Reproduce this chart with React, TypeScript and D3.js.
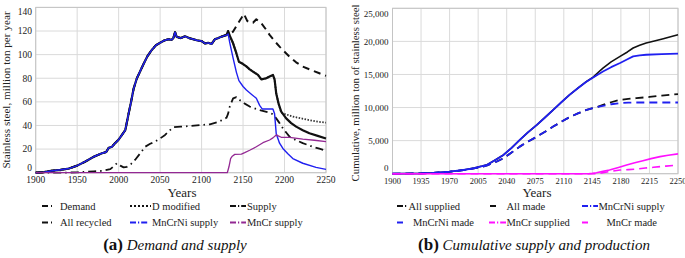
import React from "react";
import * as d3 from "d3";

type P = [number, number];

// ---------- Panel (a): annual demand and supply (million ton / year) ----------
const mncrniSupply: P[] = [
  [1900, 0], [1910, 0.5], [1920, 1.7], [1930, 2.5], [1940, 3.5], [1950, 6], [1960, 9.5],
  [1970, 13.5], [1980, 16.5], [1985, 17.5], [1988, 21], [1992, 22], [1995, 24.5], [2000, 28],
  [2005, 33], [2008, 36], [2012, 50], [2015, 60], [2018, 71], [2022, 80], [2026, 86],
  [2030, 92], [2035, 99], [2040, 104], [2045, 108], [2050, 110], [2055, 112], [2060, 113],
  [2064, 112.5], [2066, 114], [2068, 119], [2070, 115], [2075, 114], [2080, 115.5],
  [2085, 114], [2090, 113], [2095, 112], [2100, 111.5], [2104, 109.5], [2108, 110],
  [2112, 109], [2116, 113], [2120, 114], [2125, 115.5], [2130, 116.5], [2132, 117.5],
  [2134, 110], [2138, 97], [2142, 85], [2145, 78], [2150, 73], [2154, 70], [2160, 66.5],
  [2166, 63], [2170, 57], [2173, 54], [2180, 54], [2186, 54], [2188, 50], [2190, 33],
  [2194, 25], [2198, 20.5], [2204, 16], [2210, 12], [2222, 8], [2238, 4.5], [2250, 2.8],
];
const supplyLate: P[] = [
  [2132, 120], [2134, 116], [2138, 109.6], [2142, 101], [2145, 94], [2150, 92], [2154, 90],
  [2158, 87.5], [2162, 85.6], [2168, 82.8], [2172, 79], [2178, 80], [2182, 81.5], [2186, 82.8],
  [2188, 79], [2190, 67], [2193, 58], [2196, 51.7], [2202, 46], [2208, 42], [2214, 39],
  [2222, 36], [2230, 33.4], [2240, 31.2], [2250, 29],
];
const demandLate: P[] = [
  [2130, 117], [2134, 117.5], [2138, 119.5], [2144, 126.6], [2148, 131], [2151, 134.5],
  [2155, 128.6], [2158, 127], [2162, 127], [2166, 130], [2172, 126.6], [2178, 121],
  [2182, 116.7], [2188, 111.5], [2194, 106.8], [2200, 102.5], [2206, 98.3], [2214, 93.5],
  [2222, 89.8], [2234, 86.4], [2242, 84.2], [2250, 82],
];
const dModifiedLate: P[] = [
  [2196, 51], [2200, 49.8], [2210, 47.5], [2220, 46], [2230, 44.5], [2240, 43.2], [2250, 42.4],
];
const allRecycled: P[] = [
  [1900, 0], [1930, 0], [1950, 0.3], [1960, 0.8], [1970, 1.2], [1980, 1.5], [1990, 3],
  [1995, 6], [1998, 8], [2002, 6], [2006, 4.5], [2010, 5], [2015, 7.4], [2020, 11],
  [2026, 16.4], [2032, 22], [2038, 24.5], [2044, 26.3], [2050, 29], [2056, 32], [2062, 36],
  [2066, 38.5], [2075, 39], [2085, 39.5], [2100, 40.4], [2110, 41], [2120, 43], [2126, 45],
  [2130, 46.5], [2132, 50], [2134, 56], [2138, 63], [2142, 64], [2146, 61.6], [2152, 58.5],
  [2158, 56], [2170, 53], [2182, 50.8], [2186, 49.5], [2190, 46], [2194, 42], [2198, 37.6],
  [2202, 34], [2206, 30.5], [2214, 27.5], [2222, 25], [2234, 22], [2242, 20.3], [2250, 18.6],
];
const mncrSupply: P[] = [
  [1900, 0], [2131, 0], [2133, 5], [2135, 12], [2137, 14], [2140, 15.5], [2148, 15.8],
  [2152, 17], [2158, 19], [2166, 22], [2174, 25.4], [2182, 27.7], [2186, 29.5], [2190, 32],
  [2193, 31], [2196, 30], [2206, 30], [2222, 28.5], [2236, 27.5], [2250, 26.3],
];
const supply: P[] = [...mncrniSupply.filter((d) => d[0] < 2132), ...supplyLate];
const demand: P[] = [...mncrniSupply.filter((d) => d[0] < 2130), ...demandLate];
const dModified: P[] = [...supply.filter((d) => d[0] < 2196), ...dModifiedLate];

const leftYTicks = [0, 20, 40, 60, 80, 100, 120, 140];
const leftXTicks = [1900, 1950, 2000, 2050, 2100, 2150, 2200, 2250];

// ---------- Panel (b): cumulative supply and production (million ton) ----------
const cumMnCrNiSupply: P[] = [
  [1900, 0], [1935, 50], [1950, 120], [1970, 300], [1987, 560], [2000, 850], [2010, 1150],
  [2016, 1350], [2025, 2000], [2036, 2830], [2046, 3900], [2056, 5100], [2066, 6250],
  [2077, 7380], [2087, 8500], [2097, 9650], [2107, 10800], [2117, 11920], [2128, 13000],
  [2138, 13940], [2146, 14550], [2158, 15450], [2168, 16100], [2179, 16730], [2188, 17300],
  [2195, 17730], [2203, 17900], [2211, 17980], [2230, 18080], [2250, 18140],
];
const cumAllSuppliedLate: P[] = [
  [2146, 14600], [2152, 15300], [2158, 15970], [2168, 16900], [2179, 17730], [2188, 18400],
  [2195, 19000], [2203, 19400], [2211, 19760], [2221, 20060], [2232, 20400], [2242, 20730],
  [2250, 21000],
];
const cumMnCrNiMade: P[] = [
  [1900, 0], [1935, 50], [1950, 120], [1970, 300], [1987, 540], [2000, 800], [2010, 1050],
  [2016, 1250], [2022, 1550], [2028, 1850], [2036, 2330], [2046, 3200], [2056, 4090],
  [2066, 4850], [2077, 5600], [2087, 6350], [2097, 7120], [2107, 7850], [2117, 8540],
  [2128, 9150], [2138, 9650], [2148, 10000], [2158, 10260], [2168, 10500], [2179, 10670],
  [2189, 10730], [2199, 10760], [2250, 10760],
];
const cumAllMadeLate: P[] = [
  [2150, 10050], [2158, 10400], [2168, 10800], [2179, 11170], [2189, 11300], [2199, 11420],
  [2215, 11600], [2230, 11800], [2250, 12030],
];
const cumMnCrSupplied: P[] = [
  [1900, 0], [2140, 0], [2145, 50], [2150, 150], [2158, 350], [2166, 560], [2177, 950],
  [2187, 1320], [2197, 1650], [2207, 1970], [2217, 2280], [2228, 2580], [2238, 2800],
  [2250, 3000],
];
const cumMnCrMade: P[] = [
  [1900, 0], [2150, 0], [2158, 150], [2168, 350], [2179, 560], [2189, 620], [2199, 700],
  [2210, 850], [2220, 970], [2235, 1150], [2250, 1320],
];
const cumAllSupplied: P[] = [...cumMnCrNiSupply.filter((d) => d[0] < 2146), ...cumAllSuppliedLate];
const cumAllMade: P[] = [...cumMnCrNiMade.filter((d) => d[0] < 2150), ...cumAllMadeLate];

const rightYTicks = [0, 5000, 10000, 15000, 20000, 25000];
const rightXTicks = [1900, 1935, 1970, 2005, 2040, 2075, 2110, 2145, 2180, 2215, 2250];

const FONT = "Liberation Serif";
const BLUE = "#2020f0";
const PURPLE = "#932893";
const MAGENTA = "#ff10ff";
const GRID = "#dadada";

type Series = { data: P[]; color: string; width: number; dash?: string };
type LegendItem = { label: string; color: string; x1: number; x2: number; tx: number; y: number; dash?: string };

function Panel(props: {
  x0: number; x1: number; y0: number; y1: number; yMax: number;
  xTicks: number[]; yTicks: number[]; yFmt: (v: number) => string;
  yLabelRight: number; yClamp: [number, number]; xTickY: number; xTickSize: number; yTickSize: number;
  series: Series[]; yTitle: string; yTitleX: number; yTitleY: number; yTitleSize: number;
  xTitleX: number;
}) {
  const x = d3.scaleLinear().domain([1900, 2250]).range([props.x0, props.x1]);
  const y = d3.scaleLinear().domain([0, props.yMax]).range([props.y0, props.y1]);
  const line = d3.line<P>().x((d) => x(d[0])).y((d) => y(d[1]));
  return (
    <g>
      {props.xTicks.map((t) => (
        <line key={"vx" + t} x1={x(t)} x2={x(t)} y1={props.y1} y2={props.y0} stroke={GRID} strokeWidth={1} />
      ))}
      {props.yTicks.map((t) => (
        <line key={"hy" + t} x1={props.x0} x2={props.x1} y1={y(t)} y2={y(t)} stroke={GRID} strokeWidth={1} />
      ))}
      <rect x={props.x0} y={props.y1} width={props.x1 - props.x0} height={props.y0 - props.y1}
        fill="none" stroke="#c4c4c4" strokeWidth={1} />
      {props.series.map((s, i) => (
        <path key={i} d={line(s.data) || ""} fill="none" stroke={s.color} strokeWidth={s.width}
          strokeDasharray={s.dash} strokeLinejoin="round" />
      ))}
      {props.yTicks.map((t) => (
        <text key={"yl" + t} x={props.yLabelRight} y={Math.min(props.yClamp[1], Math.max(props.yClamp[0], y(t)))}
          dy="0.35em" textAnchor="end" fontSize={props.yTickSize} fill="#222">
          {props.yFmt(t)}
        </text>
      ))}
      {props.xTicks.map((t) => (
        <text key={"xl" + t} x={x(t)} y={props.xTickY} dy="0.35em" textAnchor="middle"
          fontSize={props.xTickSize} fill="#222">
          {t}
        </text>
      ))}
      <text x={props.xTitleX} y={192} dy="0.35em" textAnchor="middle" fontSize={13} fill="#222">
        Years
      </text>
      <text transform={`translate(${props.yTitleX},${props.yTitleY}) rotate(-90)`} textAnchor="middle"
        dy="0.35em" fontSize={props.yTitleSize} fill="#222">
        {props.yTitle}
      </text>
    </g>
  );
}

function Legend({ items }: { items: LegendItem[] }) {
  return (
    <g>
      {items.map((it) => (
        <g key={it.label}>
          <line x1={it.x1} x2={it.x2} y1={it.y} y2={it.y} stroke={it.color} strokeWidth={2} strokeDasharray={it.dash} />
          <text x={it.tx} y={it.y} dy="0.35em" fontSize={10.5} fill="#222">{it.label}</text>
        </g>
      ))}
    </g>
  );
}

const TICK = "6,3,1.2,30";
const DASHDOT = "6,2,1.2,2,6";

export default function App() {
  const leftSeries: Series[] = [
    { data: demand, color: "#111", width: 2, dash: "7,5" },
    { data: dModified, color: "#333", width: 1.8, dash: "1.5,1.5" },
    { data: allRecycled, color: "#111", width: 1.8, dash: "8,4,1.5,4" },
    { data: supply, color: "#111", width: 2.2 },
    { data: mncrniSupply, color: BLUE, width: 1.4 },
    { data: mncrSupply, color: PURPLE, width: 1.3 },
  ];
  const rightSeries: Series[] = [
    { data: cumAllSupplied, color: "#111", width: 1.6 },
    { data: cumAllMade, color: "#111", width: 1.8, dash: "8,5" },
    { data: cumMnCrNiMade, color: BLUE, width: 1.8, dash: "8,5" },
    { data: cumMnCrNiSupply, color: BLUE, width: 1.8 },
    { data: cumMnCrMade, color: MAGENTA, width: 1.6, dash: "8,5" },
    { data: cumMnCrSupplied, color: MAGENTA, width: 1.6 },
  ];
  const leftLegend: LegendItem[] = [
    { label: "Demand", color: "#111", x1: 42, x2: 52, tx: 60, y: 206, dash: TICK },
    { label: "D modified", color: "#111", x1: 130, x2: 151, tx: 152, y: 206, dash: "2,2" },
    { label: "Supply", color: "#111", x1: 230, x2: 246, tx: 247, y: 206, dash: DASHDOT },
    { label: "All recycled", color: "#111", x1: 42, x2: 52, tx: 60, y: 222.5, dash: TICK },
    { label: "MnCrNi supply", color: BLUE, x1: 130, x2: 151, tx: 152, y: 222.5, dash: DASHDOT },
    { label: "MnCr supply", color: PURPLE, x1: 230, x2: 246, tx: 247, y: 222.5, dash: DASHDOT },
  ];
  const rightLegend: LegendItem[] = [
    { label: "All supplied", color: "#111", x1: 397, x2: 408, tx: 408.5, y: 206, dash: DASHDOT },
    { label: "All made", color: "#111", x1: 490, x2: 498, tx: 506.5, y: 206, dash: TICK },
    { label: "MnCrNi supply", color: BLUE, x1: 582, x2: 598, tx: 598.5, y: 206, dash: DASHDOT },
    { label: "MnCrNi made", color: BLUE, x1: 397, x2: 405, tx: 413, y: 222.5, dash: TICK },
    { label: "MnCr supplied", color: MAGENTA, x1: 489, x2: 506, tx: 506.5, y: 222.5, dash: DASHDOT },
    { label: "MnCr made", color: MAGENTA, x1: 582, x2: 590, tx: 606.5, y: 222.5, dash: TICK },
  ];
  const fmt = d3.format(",");
  return (
    <svg width={685} height={258} fontFamily={FONT}
      style={{ position: "absolute", left: 0, top: 0, background: "#fff", fontFamily: FONT }}>
      <rect x={0} y={0} width={685} height={258} fill="#fff" />
      <Panel x0={35.7} x1={326} y0={172.7} y1={7.4} yMax={140}
        xTicks={leftXTicks} yTicks={leftYTicks} yFmt={(v) => String(v)}
        yLabelRight={32} yClamp={[11.7, 167.7]} xTickY={179.5} xTickSize={9.5} yTickSize={9.5}
        series={leftSeries} yTitle="Stainless steel, million ton per year" yTitleX={6} yTitleY={90}
        yTitleSize={11.2} xTitleX={182} />
      <Panel x0={392.5} x1={678} y0={173.7} y1={8.3} yMax={25000}
        xTicks={rightXTicks} yTicks={rightYTicks} yFmt={(v) => fmt(v)}
        yLabelRight={388.5} yClamp={[14, 167.7]} xTickY={181} xTickSize={8.5} yTickSize={9}
        series={rightSeries} yTitle="Cumulative, million ton of stainless steel" yTitleX={355} yTitleY={93}
        yTitleSize={10.8} xTitleX={537} />
      <Legend items={leftLegend} />
      <Legend items={rightLegend} />
      <text x={175} y={250} textAnchor="middle" fill="#111">
        <tspan fontWeight="bold" fontSize={17}>(a)</tspan>
        <tspan fontStyle="italic" fontSize={15}> Demand and supply</tspan>
      </text>
      <text x={534} y={250} textAnchor="middle" fill="#111">
        <tspan fontWeight="bold" fontSize={17}>(b)</tspan>
        <tspan fontStyle="italic" fontSize={15}> Cumulative supply and production</tspan>
      </text>
    </svg>
  );
}
